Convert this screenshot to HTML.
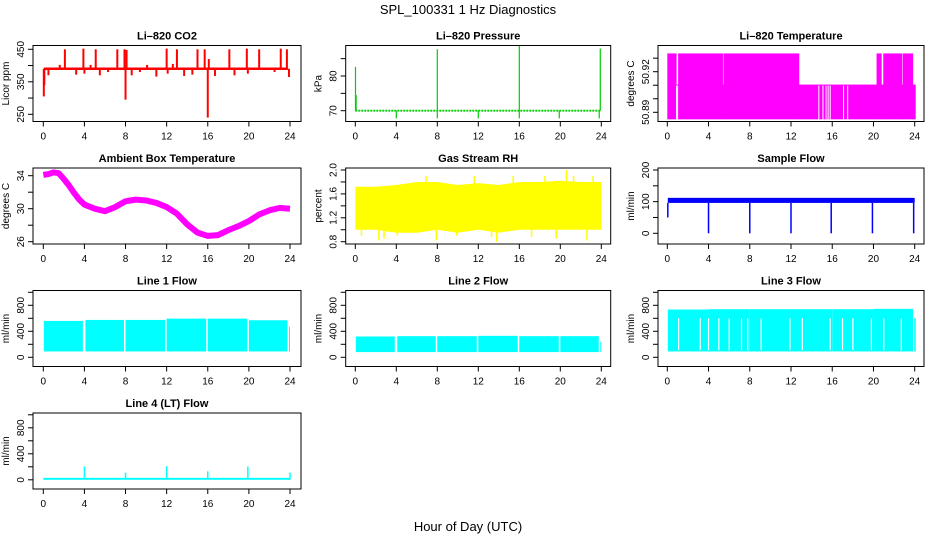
<!DOCTYPE html>
<html><head><meta charset="utf-8"><style>
html,body{margin:0;padding:0;background:#fff;}
svg{display:block;font-family:"Liberation Sans",Arial,sans-serif;}
</style></head><body>
<svg id="c" width="936" height="540" viewBox="0 0 936 540">
<text x="468" y="14" text-anchor="middle" font-size="13">SPL_100331  1 Hz Diagnostics</text>
<text x="468" y="531" text-anchor="middle" font-size="13">Hour of Day (UTC)</text>
</svg>
<script>
// ---- data ----
const xTicks=[0,4,8,12,16,20,24];
const co2Base=390;
const co2SpikeHours=[0.05,0.1,0.5,1.6,2.1,3.2,3.9,4.0,4.6,5.1,5.5,6.3,7.2,7.9,8.0,8.1,8.6,9.4,10.1,11.0,12.0,12.1,12.6,13.0,13.7,14.5,15.0,15.7,16.0,16.1,16.7,18.1,18.6,19.8,19.9,21.0,22.5,23.1,23.7,23.9];
const co2SpikeVals=[305,340,370,402,450,372,452,375,402,450,370,380,450,450,295,448,370,380,402,366,452,375,405,450,368,372,450,450,240,420,368,450,370,452,375,450,380,452,450,365];
const presBase=70;
const presSpikeHours=[0.02,0.08,8.0,16.0,23.9,4.0,8.0,12.0,16.0,19.9,23.8];
const presSpikeVals=[82.6,74.5,87.7,88.7,87.9,67.8,67.8,67.8,67.8,67.8,67.8];
const tSegStart=[0.0,0.85,1.05,5.35,5.45,12.75,20.3,20.75,20.95,22.75,22.85,23.8];
const tSegEnd=[0.85,1.05,5.35,5.45,12.75,20.3,20.75,20.95,22.75,22.85,23.8,24.05];
const tSegHigh=[50.9335,50.9105,50.9335,50.9105,50.9335,50.9105,50.9335,50.9105,50.9335,50.9105,50.9335,50.9105];
const tLow=50.8848;
const tGapHours=[0.9,1.0,14.7,15.1,15.4,15.6,15.8,17.1,17.5];
const ambHours=[0,0.5,1,1.5,2,2.5,3,3.5,4,5,6,7,8,9,10,11,12,13,14,15,16,17,18,19,20,21,22,23,24];
const ambVals=[34.1,34.2,34.4,34.3,33.6,32.8,31.9,31.1,30.5,30.0,29.7,30.2,30.9,31.1,31.0,30.7,30.2,29.4,28.1,27.1,26.7,26.8,27.4,27.9,28.5,29.3,29.8,30.1,30.0];
const rhHours=[0,2,4,6,8,10,12,14,16,18,20,22,24];
const rhLow=[1.0,1.0,0.95,0.95,1.0,0.95,1.0,0.95,1.0,1.0,1.0,1.0,1.0];
const rhHigh=[1.72,1.72,1.75,1.8,1.8,1.75,1.78,1.75,1.8,1.8,1.82,1.8,1.8];
const rhSpikeHours=[0.6,2.3,2.8,4.1,6.9,7.9,9.9,11.6,13.3,13.8,15.4,17.2,18.5,19.6,20.6,21.3,22.6,23.2];
const rhSpikeVals=[0.9,0.82,0.85,0.9,1.9,0.82,0.9,1.9,0.88,0.8,1.9,0.88,1.9,0.85,2.0,1.9,0.82,1.9];
const sfLow=96, sfHigh=112;
const sfDipHours=[0.05,4.0,8.0,12.0,15.9,19.9,23.9];
const sfDipVals=[50,0,0,0,0,0,0];
const l1Start=[0.05,4.1,8.0,12.0,16.0,20.0,23.95];
const l1End=[3.9,7.9,11.9,15.9,19.9,23.8,24.0];
const l1High=[560,575,575,595,595,570,470];
const l1Low=90;
const l2Start=[0.05,4.1,8.0,12.0,16.0,20.0,23.95];
const l2End=[3.9,7.9,11.9,15.9,19.9,23.8,24.0];
const l2High=[320,325,325,330,325,325,240];
const l2Low=80;
const l3Start=[0.05,4.0,8.0,12.0,16.0,20.0,23.95];
const l3End=[3.95,7.95,11.95,15.95,19.95,23.8,24.05];
const l3High=[735,740,740,740,740,745,600];
const l3Low=90;
const l3GapHours=[1.1,3.2,4.0,5.0,6.0,7.2,7.8,9.1,11.9,13.1,15.8,17.0,18.0,19.8,21.0,22.7];
const l4Base=15;
const l4SpikeHours=[4.0,8.0,12.0,16.0,19.9,24.0];
const l4SpikeVals=[205,110,210,130,205,110];

// ---- layout ----
const NS="http://www.w3.org/2000/svg";
const svg=document.getElementById('c');
const colX=[[43.3,290],[355.3,601.3],[667.3,914.7]];
const colBox=[[33,301],[345.7,610.7],[658,924]];
const rowTop=[45.5,168,290.5,413];
const H=76;
function el(tag,attrs,parent){const e=document.createElementNS(NS,tag);for(const k in attrs)e.setAttribute(k,attrs[k]);(parent||svg).appendChild(e);return e;}
function panel(id,col,row,title,ylab,v1,p1,v2,p2,majors,labels,minors){
  const g=el('g',{});
  
  
  const L=colBox[col][0],R=colBox[col][1],T=rowTop[row],B=T+H;
  const sx=v=>colX[col][0]+(v/24)*(colX[col][1]-colX[col][0]);
  const sy=v=>p1+(v-v1)*(p2-p1)/(v2-v1);
  const plot=el('g',{},g);
  
  
  const box=el('rect',{x:L,y:T,width:R-L,height:H,fill:'none',stroke:'#000','stroke-width':1},g);
  
  
  const t=el('text',{x:(L+R)/2,y:T-6,'text-anchor':'middle','font-size':11,'font-weight':'bold'},g);
  t.textContent=title;
  
  
  xTicks.forEach(v=>{const x=sx(v);el('line',{x1:x,x2:x,y1:B,y2:B+5,stroke:'#000'},g);
    const tx=el('text',{x:x,y:B+18,'text-anchor':'middle','font-size':10},g);tx.textContent=v;
    
    });
  majors.forEach((v,i)=>{const y=sy(v);el('line',{x1:L-5,x2:L,y1:y,y2:y,stroke:'#000'},g);
    const ty=el('text',{x:L-9,y:y,'text-anchor':'middle','font-size':10,transform:`rotate(-90 ${L-9} ${y})`},g);ty.textContent=labels[i];
    
    });
  (minors||[]).forEach(v=>{const y=sy(v);el('line',{x1:L-5,x2:L,y1:y,y2:y,stroke:'#000'},g);});
  const yl=el('text',{x:L-24,y:(T+B)/2,'text-anchor':'middle','font-size':10,transform:`rotate(-90 ${L-24} ${(T+B)/2})`},g);
  yl.textContent=ylab;
  
  
  return {sx,sy,g:plot,T,B};
}
function vl(p,g,x,y1,y2,c,w){el('line',{x1:x,x2:x,y1:y1,y2:y2,stroke:c,'stroke-width':w||1.3},g);}
function rectV(g,x1,x2,ya,yb,c){el('rect',{x:Math.min(x1,x2),y:Math.min(ya,yb),width:Math.abs(x2-x1)+0.5,height:Math.abs(yb-ya),fill:c},g);}

let P=panel('co2',0,0,'Li–820 CO2','Licor ppm',450,49.3,250,114.3,[250,350,450],['250','350','450'],[300,400]);
el('line',{x1:P.sx(0.05),x2:P.sx(23.8),y1:P.sy(co2Base),y2:P.sy(co2Base),stroke:'red','stroke-width':2.5},P.g);
co2SpikeHours.forEach((h,i)=>vl(0,P.g,P.sx(h),P.sy(co2Base),P.sy(co2SpikeVals[i]),'red',2));
P=panel('pressure',1,0,'Li–820 Pressure','kPa',70,110.7,80,76,[70,80],['70','80'],[75,85]);
el('line',{x1:P.sx(0),x2:P.sx(24),y1:P.sy(presBase),y2:P.sy(presBase),stroke:'#00cc00','stroke-width':1.8,'stroke-dasharray':'2 1'},P.g);
presSpikeHours.forEach((h,i)=>vl(0,P.g,P.sx(h),P.sy(presBase),P.sy(presSpikeVals[i]),'#00cc00',1.2));
P=panel('li820-temp',2,0,'Li–820 Temperature','degrees C',50.89,112.3,50.92,71.7,[50.89,50.92],['50.89','50.92'],[50.90,50.91,50.93]);
tSegStart.forEach((s,i)=>rectV(P.g,P.sx(s),P.sx(tSegEnd[i]),P.sy(tLow),P.sy(tSegHigh[i]),'#ff00ff'));
tGapHours.forEach(h=>vl(0,P.g,P.sx(h),P.sy(tLow),P.sy(50.9105)+1,'#fff',1));
P=panel('ambient-temp',0,1,'Ambient Box Temperature','degrees C',34,175.7,26,241.7,[26,30,34],['26','30','34'],[28,32]);
el('polyline',{points:ambHours.map((h,i)=>P.sx(h)+','+P.sy(ambVals[i])).join(' '),fill:'none',stroke:'#ff00ff','stroke-width':6,'stroke-linejoin':'round'},P.g);
P=panel('gas-rh',1,1,'Gas Stream RH','percent',2.0,170,0.8,241.7,[0.8,1.2,1.6,2.0],['0.8','1.2','1.6','2.0'],[1.0,1.4,1.8]);
el('polygon',{points:rhHours.map((h,i)=>P.sx(h)+','+P.sy(rhHigh[i])).concat(rhHours.slice().reverse().map((h,j)=>{const i=rhHours.length-1-j;return P.sx(h)+','+P.sy(rhLow[i]);})).join(' '),fill:'#ffff00'},P.g);
rhSpikeHours.forEach((h,i)=>vl(0,P.g,P.sx(h),P.sy(1.4),P.sy(rhSpikeVals[i]),'#ffff00',1.5));
P=panel('sample-flow',2,1,'Sample Flow','ml/min',200,170,0,233.3,[0,100,200],['0','100','200'],[50,150]);
rectV(P.g,P.sx(0.05),P.sx(23.95),P.sy(sfLow),P.sy(sfHigh),'#0000ff');
sfDipHours.forEach((h,i)=>vl(0,P.g,P.sx(h),P.sy(sfLow),P.sy(sfDipVals[i]),'#0000ff',1.5));
const fm=[0,400,800],fl=['0','400','800'],fn=[200,600,1000];
P=panel('line1-flow',0,2,'Line 1 Flow','ml/min',0,357.3,400,331.3,fm,fl,fn);
l1Start.forEach((s,i)=>rectV(P.g,P.sx(s),P.sx(l1End[i])-1,P.sy(l1Low),P.sy(l1High[i]),'#00ffff'));
P=panel('line2-flow',1,2,'Line 2 Flow','ml/min',0,357.3,400,331.3,fm,fl,fn);
l2Start.forEach((s,i)=>rectV(P.g,P.sx(s),P.sx(l2End[i])-1,P.sy(l2Low),P.sy(l2High[i]),'#00ffff'));
P=panel('line3-flow',2,2,'Line 3 Flow','ml/min',0,357.3,400,331.3,fm,fl,fn);
l3Start.forEach((s,i)=>rectV(P.g,P.sx(s),P.sx(l3End[i]),P.sy(l3Low),P.sy(l3High[i]),'#00ffff'));
l3GapHours.forEach(h=>vl(0,P.g,P.sx(h),P.sy(l3Low+20),P.sy(600),'#fff',1.2));
P=panel('line4-flow',0,3,'Line 4 (LT) Flow','ml/min',0,479.8,400,453.8,fm,fl,fn);
rectV(P.g,P.sx(0),P.sx(24),P.sy(0),P.sy(l4Base+15),'#00ffff');
l4SpikeHours.forEach((h,i)=>vl(0,P.g,P.sx(h),P.sy(l4Base),P.sy(l4SpikeVals[i]),'#00ffff',1.5));
</script>
</body></html>
